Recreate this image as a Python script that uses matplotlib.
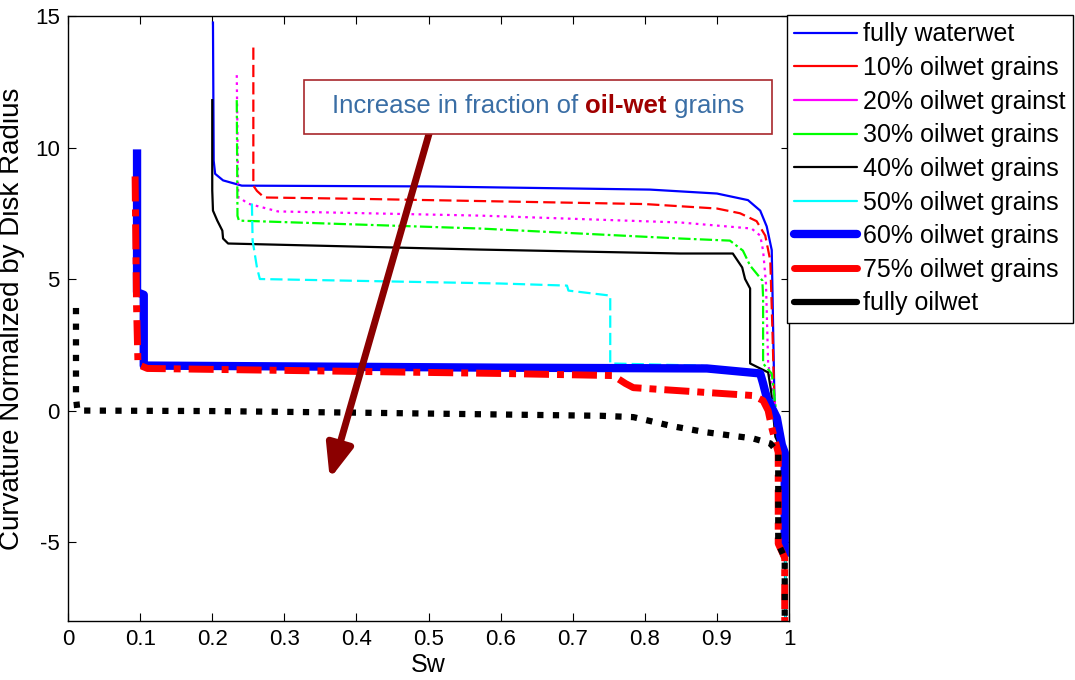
import matplotlib
matplotlib.use("Agg")
import matplotlib.pyplot as plt
from matplotlib.lines import Line2D
from matplotlib.patches import Rectangle

plt.rcParams['font.family'] = ['Liberation Sans', 'DejaVu Sans']
plt.rcParams['axes.unicode_minus'] = False

# ---- data (Sw, normalized curvature) ----
ww_x = [0.201, 0.202, 0.204, 0.215, 0.241, 0.5, 0.807, 0.90, 0.943, 0.960, 0.969, 0.976, 0.978, 0.980, 0.985, 0.993, 0.995]
ww_y = [14.75, 9.5, 9.0, 8.75, 8.55, 8.52, 8.4, 8.25, 8.0, 7.6, 7.0, 6.1, 3.0, 0.0, -1.2, -2.0, -8.0]

ow10_x = [0.257, 0.257, 0.262, 0.272, 0.4, 0.6, 0.8, 0.9, 0.932, 0.955, 0.967, 0.974, 0.977, 0.980, 0.986, 0.994, 0.995]
ow10_y = [13.8, 8.55, 8.35, 8.1, 8.05, 7.95, 7.85, 7.68, 7.5, 7.2, 6.65, 5.7, 3.0, 0.0, -1.3, -2.0, -8.0]

ow20_x = [0.234, 0.236, 0.238, 0.249, 0.291, 0.572, 0.849, 0.948, 0.960, 0.964, 0.968, 0.971, 0.980, 0.986, 0.994, 0.995]
ow20_y = [12.75, 8.1, 8.1, 7.87, 7.57, 7.41, 7.15, 6.92, 6.65, 6.08, 4.83, 1.79, 0.38, -1.3, -2.0, -8.0]

ow30_x = [0.234, 0.235, 0.237, 0.571, 0.849, 0.918, 0.936, 0.946, 0.963, 0.964, 0.964, 0.976, 0.982, 0.986, 0.994, 0.995]
ow30_y = [11.8, 7.4, 7.22, 6.92, 6.54, 6.46, 6.08, 5.51, 4.94, 4.3, 1.79, 1.4, 0.0, -1.3, -2.0, -8.0]

ow40_x = [0.200, 0.200, 0.201, 0.207, 0.214, 0.215, 0.222, 0.571, 0.849, 0.922, 0.935, 0.939, 0.946, 0.946, 0.971, 0.975, 0.981, 0.986, 0.994, 0.995]
ow40_y = [11.8, 8.37, 7.6, 7.22, 6.84, 6.54, 6.35, 6.12, 5.97, 5.97, 5.44, 5.0, 4.64, 1.79, 1.45, 0.76, -1.0, -1.3, -2.0, -8.0]

ow50_x = [0.255, 0.256, 0.262, 0.266, 0.599, 0.692, 0.694, 0.752, 0.752, 0.877, 0.955, 0.975, 0.990, 0.995, 0.995]
ow50_y = [7.87, 6.46, 5.44, 5.0, 4.83, 4.75, 4.56, 4.37, 1.79, 1.71, 1.45, 0.5, -1.5, -2.0, -8.0]

ow60_x = [0.0957, 0.0957, 0.105, 0.105, 0.599, 0.886, 0.960, 0.964, 0.969, 0.983, 0.990, 0.994, 0.994]
ow60_y = [9.77, 4.5, 4.4, 1.71, 1.63, 1.6, 1.41, 1.03, 0.5, -0.27, -1.3, -1.6, -5.4]

ow75_x = [0.093, 0.095, 0.097, 0.11, 0.599, 0.756, 0.773, 0.784, 0.950, 0.964, 0.971, 0.976, 0.985, 0.985, 0.994, 0.994]
ow75_y = [8.9, 4.0, 1.75, 1.6, 1.41, 1.33, 1.03, 0.87, 0.57, 0.38, 0.0, -0.65, -1.6, -5.06, -5.6, -8.0]

fow_x = [0.011, 0.011, 0.013, 0.2, 0.4, 0.6, 0.74, 0.784, 0.839, 0.886, 0.950, 0.974, 0.985, 0.985, 0.994, 0.994]
fow_y = [3.9, 0.5, 0.0, -0.02, -0.08, -0.15, -0.2, -0.25, -0.6, -0.83, -1.06, -1.25, -1.6, -5.06, -5.6, -8.0]

labels = ['fully waterwet', '10% oilwet grains', '20% oilwet grainst', '30% oilwet grains',
          '40% oilwet grains', '50% oilwet grains', '60% oilwet grains', '75% oilwet grains',
          'fully oilwet']
xticks = [0, 0.1, 0.2, 0.3, 0.4, 0.5, 0.6, 0.7, 0.8, 0.9, 1]
xticklabels = ['0', '0.1', '0.2', '0.3', '0.4', '0.5', '0.6', '0.7', '0.8', '0.9', '1']
yticks = [-5, 0, 5, 10, 15]

# arrow from box down-left
arrow_start = (0.502, 10.65)
arrow_end = (0.363, -2.6)

curves = [
    (ww_x, ww_y, dict(color='blue', lw=1.6)),
    (ow10_x, ow10_y, dict(color='red', lw=1.6, dashes=(5.5, 2.3))),
    (ow20_x, ow20_y, dict(color='magenta', lw=1.6, dashes=(1.2, 2.0))),
    (ow30_x, ow30_y, dict(color='lime', lw=1.6, dashes=(5.5, 1.5, 1.2, 1.5))),
    (ow40_x, ow40_y, dict(color='black', lw=1.6)),
    (ow50_x, ow50_y, dict(color='cyan', lw=1.6, dashes=(5.5, 2.3))),
    (ow60_x, ow60_y, dict(color='blue', lw=6.0)),
    (ow75_x, ow75_y, dict(color='red', lw=5.0, dashes=(3.6, 1.15, 1.0, 1.15))),
    (fow_x, fow_y, dict(color='black', lw=4.5, dashes=(1.0, 1.5))),
]

fig = plt.figure(figsize=(10.75, 6.8), dpi=100)
ax = fig.add_axes([0.0633, 0.0868, 0.6707, 0.8897])

for x, y, kw in curves:
    ax.plot(x, y, **kw)

ax.set_xlim(0, 1)
ax.set_ylim(-8, 15)
ax.set_xticks(xticks)
ax.set_xticklabels(xticklabels)
ax.set_yticks(yticks)
ax.tick_params(direction='in', length=6, width=0.8, top=True, right=True,
               labelsize=16, pad=6, colors='black')
for s in ax.spines.values():
    s.set_linewidth(1.0)

ax.set_xlabel('Sw', fontsize=18)
ax.set_ylabel('Curvature Normalized by Disk Radius', fontsize=20)
ax.xaxis.set_label_coords(0.5, -0.053)
ax.yaxis.set_label_coords(-0.06, 0.5)

# arrow
ax.annotate('', xy=arrow_end, xytext=arrow_start,
            arrowprops=dict(arrowstyle='-|>,head_length=1.0,head_width=0.4',
                            color='#8B0000', lw=5, mutation_scale=20,
                            shrinkA=0, shrinkB=0), zorder=5)

# text box
ax.add_patch(Rectangle((0.327, 10.53), 0.649, 2.02, facecolor='white',
                       edgecolor='#A8282C', lw=1.2, zorder=6))
t1 = ax.text(0.366, 11.33, 'Increase in fraction of ', fontsize=18.5,
             color='#3A6EA5', va='baseline', ha='left', zorder=7)
t2 = ax.annotate('oil-wet', xy=(1, 0), xycoords=t1, fontsize=18.5,
                 fontweight='bold', color='#A00000', va='bottom', ha='left', zorder=7)
t3 = ax.annotate(' grains', xy=(1, 0), xycoords=t2, fontsize=18.5,
                 color='#3A6EA5', va='bottom', ha='left', zorder=7)

# legend with solid handles
handles = []
for (x, y, kw), lab in zip(curves, labels):
    handles.append(Line2D([], [], color=kw['color'], lw=kw['lw'],
                          solid_capstyle='round', label=lab))
leg = fig.legend(handles=handles, loc='upper left', bbox_to_anchor=(0.732, 0.978),
                 fontsize=18, handlelength=2.5, handletextpad=0.25,
                 labelspacing=0.385, borderpad=0.3, borderaxespad=0,
                 fancybox=False, framealpha=1, edgecolor='black')
leg.get_frame().set_linewidth(1.0)

fig.savefig('out.png', dpi=100)
